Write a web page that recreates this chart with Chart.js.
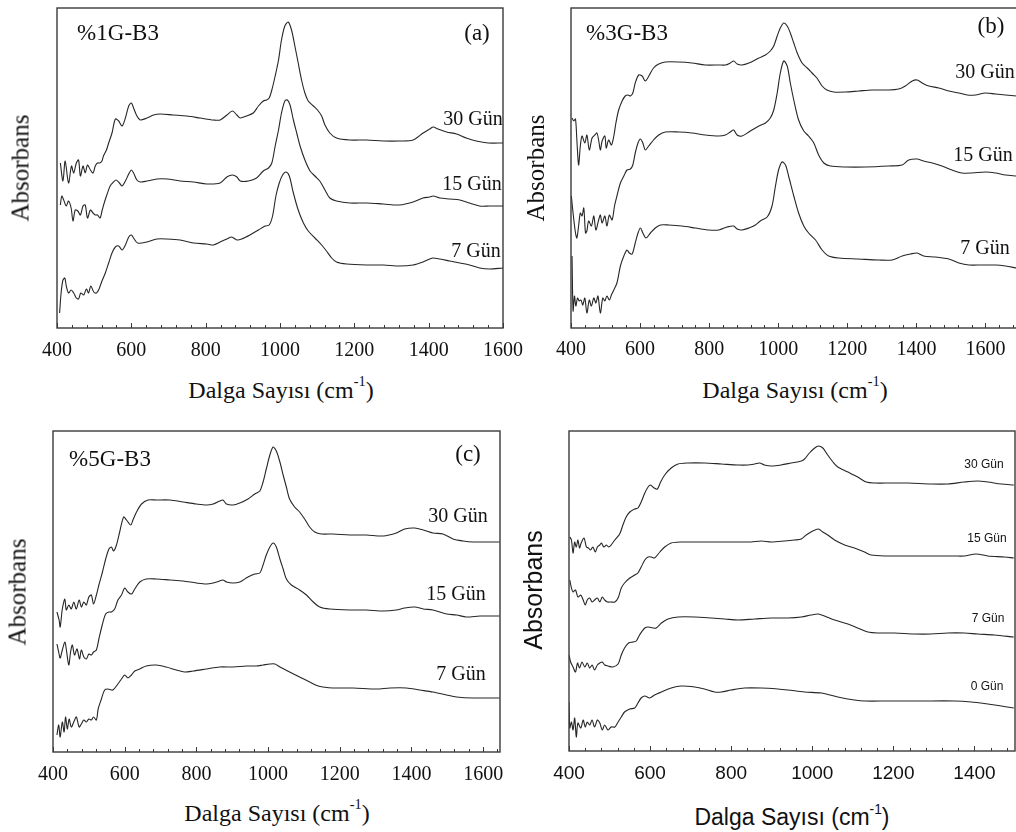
<!DOCTYPE html>
<html>
<head>
<meta charset="utf-8">
<script src="https://cdn.jsdelivr.net/npm/chart.js@4.4.1/dist/chart.umd.min.js"></script>
<style>
  body { margin: 0; width: 1016px; height: 832px; overflow: hidden; background: #fff; position: relative; }
  canvas { position: absolute; }
  .t { position: absolute; transform: translate(-50%, -50%); white-space: nowrap; color: #111; line-height: 1; }
  .v { transform: translate(-50%, -50%) rotate(-90deg); }
  .serif { font-family: "Liberation Serif", "Times New Roman", serif; }
  .sans { font-family: "Liberation Sans", Arial, sans-serif; }
  sup { font-size: 60%; position: relative; top: -0.2em; vertical-align: super; line-height: 0; }
</style>
</head>
<body>
<canvas id="chartA" width="540" height="372" style="left:0;top:0"></canvas>
<canvas id="chartB" width="500" height="372" style="left:540px;top:0"></canvas>
<canvas id="chartC" width="540" height="380" style="left:0;top:410px"></canvas>
<canvas id="chartD" width="476" height="380" style="left:540px;top:410px"></canvas>

<!-- (a) -->
<div class="t serif" style="left:118px;top:32px;font-size:23px">%1G-B3</div>
<div class="t serif" style="left:477px;top:32px;font-size:23px">(a)</div>
<div class="t serif" style="left:473px;top:118px;font-size:20px">30 Gün</div>
<div class="t serif" style="left:472px;top:183px;font-size:20px">15 Gün</div>
<div class="t serif" style="left:476px;top:250px;font-size:20px">7 Gün</div>
<div class="t serif" style="left:281px;top:390px;font-size:24px">Dalga Sayısı (cm<sup>-1</sup>)</div>
<div class="t serif v" style="left:20px;top:168px;font-size:25px">Absorbans</div>

<!-- (b) -->
<div class="t serif" style="left:627px;top:32px;font-size:23px">%3G-B3</div>
<div class="t serif" style="left:991px;top:25px;font-size:23px">(b)</div>
<div class="t serif" style="left:985px;top:71px;font-size:20px">30 Gün</div>
<div class="t serif" style="left:983px;top:154px;font-size:20px">15 Gün</div>
<div class="t serif" style="left:985px;top:247px;font-size:20px">7 Gün</div>
<div class="t serif" style="left:795px;top:390px;font-size:24px">Dalga Sayısı (cm<sup>-1</sup>)</div>
<div class="t serif v" style="left:535px;top:168px;font-size:25px">Absorbans</div>

<!-- (c) -->
<div class="t serif" style="left:110px;top:458px;font-size:23px">%5G-B3</div>
<div class="t serif" style="left:468px;top:453px;font-size:23px">(c)</div>
<div class="t serif" style="left:458px;top:515px;font-size:20px">30 Gün</div>
<div class="t serif" style="left:456px;top:593px;font-size:20px">15 Gün</div>
<div class="t serif" style="left:461px;top:673px;font-size:20px">7 Gün</div>
<div class="t serif" style="left:277px;top:813px;font-size:24px">Dalga Sayısı (cm<sup>-1</sup>)</div>
<div class="t serif v" style="left:17px;top:592px;font-size:25px">Absorbans</div>

<!-- (d) -->
<div class="t sans" style="left:984px;top:464px;font-size:12px">30 Gün</div>
<div class="t sans" style="left:987px;top:538px;font-size:12px">15 Gün</div>
<div class="t sans" style="left:988px;top:618px;font-size:12px">7 Gün</div>
<div class="t sans" style="left:987px;top:686px;font-size:12px">0 Gün</div>
<div class="t sans" style="left:792px;top:817px;font-size:23px">Dalga Sayısı (cm<sup>-1</sup>)</div>
<div class="t sans v" style="left:533px;top:590px;font-size:25px">Absorbans</div>

<script>
// x = wavenumber (cm-1), y = absorbance (arbitrary units, offset curves)
const ticksA = [400, 600, 800, 1000, 1200, 1400, 1600];
const ticksB = [400, 600, 800, 1000, 1200, 1400, 1600];
const ticksC = [400, 600, 800, 1000, 1200, 1400, 1600];
const ticksD = [400, 600, 800, 1000, 1200, 1400];

// (a) %1G-B3
const a30 = [[409,165],[416,147],[422,167],[431,145],[439,162],[445,155],[452,165],[458,168],[463,152],[470,162],[476,155],[482,163],[490,158],[497,155],[503,162],[509,165],[515,165],[521,167],[525,172],[533,178],[539,185],[548,195],[557,209],[566,207],[575,202],[584,210],[593,222],[600,225],[606,220],[615,212],[624,208],[642,210],[660,213],[678,214],[713,213],[749,212],[785,210],[821,208],[839,208],[857,213],[872,217],[884,213],[893,210],[910,212],[928,215],[942,222],[955,227],[964,228],[971,230],[978,238],[987,252],[996,268],[1004,288],[1013,302],[1022,306],[1031,298],[1040,282],[1049,265],[1058,248],[1067,235],[1076,227],[1090,222],[1103,217],[1112,212],[1121,203],[1134,195],[1152,190],[1188,188],[1233,188],[1278,187],[1322,187],[1358,188],[1385,195],[1403,199],[1412,201],[1425,199],[1448,196],[1475,194],[1501,190],[1528,187],[1560,185],[1600,185]];
const a15 = [[409,123],[413,132],[418,128],[425,122],[431,127],[438,120],[443,107],[449,118],[456,117],[463,113],[470,122],[476,123],[482,110],[490,118],[497,115],[503,113],[509,113],[516,110],[521,117],[527,125],[534,133],[543,142],[552,146],[559,148],[568,145],[575,142],[584,147],[593,154],[600,158],[606,155],[615,148],[624,146],[642,147],[669,149],[696,149],[731,147],[767,146],[803,144],[839,145],[857,151],[872,153],[884,151],[893,147],[915,147],[937,150],[955,157],[969,160],[978,165],[987,182],[996,198],[1004,215],[1013,227],[1020,228],[1027,223],[1036,208],[1045,195],[1054,182],[1067,168],[1081,157],[1094,152],[1107,147],[1121,138],[1134,130],[1152,127],[1188,125],[1233,125],[1278,124],[1322,123],[1358,126],[1385,130],[1403,131],[1412,132],[1430,130],[1457,129],[1484,128],[1510,125],[1537,122],[1564,122],[1600,122]];
const a7 = [[407,15],[411,35],[416,48],[421,50],[425,42],[431,35],[438,38],[445,35],[452,30],[458,29],[464,35],[472,33],[479,39],[485,35],[491,42],[499,36],[506,35],[512,38],[521,47],[530,55],[539,65],[548,75],[557,81],[566,82],[575,78],[584,83],[593,91],[600,93],[606,90],[617,85],[642,86],[669,89],[696,89],[731,88],[767,85],[803,84],[821,83],[839,86],[857,89],[870,91],[884,88],[897,89],[919,93],[942,98],[960,102],[971,103],[980,112],[989,132],[998,145],[1007,153],[1016,156],[1025,152],[1036,135],[1049,118],[1063,105],[1076,97],[1094,90],[1112,83],[1125,77],[1139,70],[1152,66],[1179,64],[1233,63],[1278,63],[1322,62],[1358,63],[1385,66],[1403,69],[1412,70],[1430,69],[1457,67],[1484,65],[1510,63],[1537,60],[1564,59],[1600,60]];

// (b) %3G-B3
const b30 = [[403,210],[408,207],[413,209],[417,188],[422,163],[427,182],[432,192],[440,185],[446,193],[453,178],[461,190],[469,193],[475,195],[480,188],[485,178],[490,187],[498,192],[502,180],[509,188],[517,183],[524,192],[530,205],[538,218],[548,227],[557,232],[565,233],[572,232],[579,235],[586,245],[596,253],[606,252],[615,247],[627,253],[639,260],[654,264],[673,266],[712,266],[750,265],[789,263],[828,263],[847,263],[861,265],[871,267],[881,264],[895,263],[915,265],[944,270],[963,273],[977,277],[987,282],[997,292],[1006,300],[1016,305],[1026,302],[1035,295],[1045,285],[1055,275],[1069,265],[1084,260],[1098,255],[1112,250],[1127,242],[1141,238],[1161,236],[1195,236],[1233,237],[1272,238],[1320,238],[1349,239],[1368,242],[1388,247],[1402,248],[1417,245],[1436,242],[1465,240],[1494,237],[1523,235],[1547,233],[1571,233],[1600,235],[1629,234],[1658,233],[1690,232]];
const b15 = [[401,132],[406,115],[413,95],[417,90],[422,102],[427,115],[432,112],[437,120],[442,95],[446,97],[451,107],[459,102],[466,112],[472,98],[480,108],[485,113],[490,105],[498,112],[504,102],[511,113],[519,108],[526,122],[533,132],[543,145],[553,152],[562,158],[572,159],[579,163],[586,175],[594,185],[601,189],[608,185],[615,178],[625,182],[639,188],[654,193],[673,196],[712,196],[750,195],[789,193],[828,192],[847,193],[861,196],[871,198],[881,193],[895,192],[915,196],[944,202],[963,205],[977,210],[987,218],[997,235],[1006,255],[1016,267],[1026,262],[1035,245],[1045,228],[1059,208],[1074,197],[1088,192],[1103,185],[1117,173],[1132,165],[1151,162],[1195,161],[1252,161],[1320,162],[1359,163],[1378,168],[1402,169],[1421,167],[1446,165],[1474,162],[1503,158],[1532,155],[1561,155],[1600,156],[1629,155],[1658,153],[1690,152]];
const b7 = [[403,72],[406,17],[410,32],[414,22],[419,30],[424,27],[429,28],[434,23],[440,30],[446,15],[453,28],[459,22],[466,30],[472,25],[478,32],[485,15],[492,30],[498,27],[504,32],[511,28],[517,33],[524,38],[533,45],[543,62],[553,72],[562,78],[569,75],[577,74],[586,85],[594,95],[601,100],[608,95],[617,90],[630,95],[644,100],[659,103],[683,103],[721,102],[760,100],[799,98],[828,98],[852,101],[871,102],[881,99],[895,98],[915,100],[934,103],[948,107],[968,111],[982,122],[992,142],[1001,158],[1011,166],[1021,163],[1030,152],[1045,132],[1059,115],[1074,102],[1088,95],[1108,88],[1127,78],[1146,72],[1175,70],[1233,69],[1291,68],[1330,68],[1359,72],[1383,74],[1402,75],[1421,72],[1455,71],[1494,69],[1523,65],[1552,63],[1590,63],[1629,63],[1658,62],[1690,60]];

// (c) %5G-B3
const c30 = [[411,140],[417,132],[420,125],[426,143],[433,153],[437,142],[444,147],[451,143],[458,150],[465,143],[473,152],[479,145],[486,150],[493,147],[500,155],[507,157],[513,148],[521,157],[528,167],[538,180],[547,193],[556,203],[563,205],[569,201],[577,207],[586,220],[597,235],[605,232],[617,227],[623,232],[633,240],[647,248],[665,252],[688,252],[726,252],[763,250],[800,248],[828,247],[847,248],[865,251],[874,252],[884,248],[902,247],[921,249],[944,253],[963,258],[977,261],[986,270],[995,283],[1005,297],[1014,305],[1023,301],[1033,290],[1042,277],[1051,265],[1060,253],[1074,245],[1088,240],[1102,233],[1116,225],[1130,220],[1149,218],[1181,218],[1228,217],[1274,217],[1321,216],[1358,219],[1381,223],[1409,224],[1433,222],[1460,219],[1488,218],[1516,213],[1544,211],[1572,210],[1609,210],[1646,210]];
const c15 = [[411,108],[417,98],[420,94],[426,102],[433,110],[437,103],[444,87],[449,100],[454,107],[460,97],[467,103],[474,93],[479,102],[486,95],[493,93],[500,98],[507,97],[513,100],[521,102],[528,113],[538,128],[547,138],[556,140],[563,140],[572,143],[581,152],[591,157],[600,164],[609,160],[619,158],[628,163],[642,170],[660,173],[688,173],[726,172],[763,171],[800,169],[828,168],[847,169],[865,171],[874,172],[884,170],[902,169],[921,170],[944,175],[963,178],[977,179],[986,187],[995,197],[1005,205],[1014,209],[1023,205],[1033,193],[1042,183],[1051,173],[1065,167],[1088,162],[1107,157],[1126,150],[1144,145],[1172,143],[1228,142],[1274,142],[1321,141],[1358,142],[1381,144],[1409,145],[1433,143],[1460,142],[1498,138],[1526,137],[1553,135],[1591,136],[1646,136]];
const c7 = [[411,17],[416,27],[420,15],[426,30],[431,20],[435,35],[440,23],[445,33],[451,25],[458,30],[465,35],[473,25],[479,28],[486,32],[493,30],[500,33],[507,32],[513,35],[521,32],[526,43],[535,53],[544,62],[553,63],[567,62],[581,68],[591,73],[600,77],[609,74],[619,77],[628,81],[642,83],[660,86],[688,87],[716,85],[744,82],[767,80],[791,81],[828,83],[865,85],[902,85],[940,86],[967,86],[986,87],[1005,88],[1019,88],[1033,85],[1060,80],[1088,75],[1116,70],[1140,66],[1153,65],[1181,64],[1237,64],[1302,63],[1340,64],[1386,64],[1423,62],[1460,60],[1498,57],[1526,55],[1572,54],[1646,54]];

// (d)
const d30 = [[402,214],[406,211],[410,198],[414,209],[418,204],[422,211],[426,203],[430,208],[437,213],[443,204],[448,203],[453,201],[459,204],[465,199],[470,204],[476,206],[480,208],[486,204],[492,206],[498,204],[504,206],[513,211],[525,217],[533,226],[541,234],[550,239],[562,242],[570,243],[578,249],[587,258],[595,264],[601,266],[610,263],[618,262],[626,269],[636,276],[652,283],[669,287],[693,288],[734,288],[776,287],[817,286],[841,286],[858,287],[870,288],[882,286],[899,285],[923,286],[948,288],[973,290],[981,292],[993,298],[1006,303],[1015,305],[1026,303],[1038,296],[1051,289],[1063,284],[1088,279],[1112,274],[1133,269],[1153,268],[1195,268],[1236,268],[1293,267],[1334,267],[1375,269],[1408,270],[1433,269],[1466,267],[1497,266]];
const d15 = [[402,171],[406,163],[410,159],[416,161],[422,154],[429,156],[435,151],[440,146],[445,151],[451,153],[457,149],[463,151],[470,153],[476,149],[482,154],[488,151],[495,149],[503,149],[513,149],[521,153],[529,163],[537,168],[550,173],[562,176],[570,178],[578,184],[587,191],[595,194],[603,194],[611,193],[624,199],[636,204],[652,208],[677,209],[718,209],[767,209],[817,209],[849,209],[874,210],[899,209],[932,210],[956,211],[973,212],[985,216],[1001,220],[1015,222],[1026,219],[1038,216],[1055,211],[1080,206],[1104,203],[1129,199],[1145,196],[1186,195],[1227,195],[1269,195],[1310,195],[1351,195],[1375,195],[1404,197],[1433,195],[1474,194],[1497,193]];
const d7 = [[400,96],[404,89],[410,84],[416,79],[421,88],[426,83],[432,89],[439,84],[445,88],[451,83],[457,86],[463,81],[470,86],[476,88],[482,89],[488,86],[496,85],[508,84],[521,87],[529,96],[537,103],[547,108],[558,109],[566,110],[574,116],[587,123],[596,124],[607,123],[615,123],[628,128],[644,132],[669,134],[710,134],[751,133],[784,132],[817,131],[858,132],[899,133],[940,133],[973,134],[997,136],[1015,137],[1030,135],[1055,131],[1088,127],[1112,123],[1137,119],[1162,118],[1203,118],[1252,117],[1293,117],[1334,118],[1375,118],[1408,117],[1449,116],[1497,114]];
const d0 = [[400,49],[402,23],[406,29],[410,21],[414,33],[418,14],[422,28],[429,23],[435,31],[440,24],[445,29],[451,26],[457,31],[463,24],[470,31],[476,28],[482,21],[488,26],[496,21],[504,24],[513,24],[521,29],[529,34],[537,39],[550,42],[562,43],[570,48],[578,53],[587,55],[599,53],[611,56],[628,59],[652,63],[677,65],[710,64],[734,62],[759,59],[776,59],[800,61],[833,63],[874,63],[915,62],[940,61],[981,59],[1022,58],[1063,54],[1104,51],[1129,50],[1186,50],[1269,50],[1351,50],[1392,49],[1433,47],[1497,43]];

// box + inward bottom ticks (minor every 40, major every 200)
const framePlugin = {
  id: 'frame',
  afterDraw(chart) {
    const { ctx, chartArea: a, scales: { x } } = chart;
    ctx.save();
    ctx.strokeStyle = '#3a3a3a';
    ctx.lineWidth = 1.4;
    ctx.strokeRect(a.left, a.top, a.right - a.left, a.bottom - a.top);
    ctx.lineWidth = 1;
    for (let v = x.min; v <= x.max; v += 40) {
      const px = Math.round(x.getPixelForValue(v)) + 0.5;
      const len = v % 200 === 0 ? 5 : 3;
      ctx.beginPath();
      ctx.moveTo(px, a.bottom);
      ctx.lineTo(px, a.bottom - len);
      ctx.stroke();
    }
    ctx.restore();
  }
};

function makeChart(id, series, opt) {
  return new Chart(document.getElementById(id), {
    type: 'line',
    data: {
      datasets: series.map(s => ({
        data: s.map(p => ({ x: p[0], y: p[1] })),
        borderColor: '#262626',
        borderWidth: 1.1,
        pointRadius: 0,
        tension: 0.3,
        fill: false
      }))
    },
    options: {
      responsive: false,
      animation: false,
      devicePixelRatio: 1,
      layout: { padding: opt.pad },
      plugins: { legend: { display: false }, tooltip: { enabled: false } },
      scales: {
        x: {
          type: 'linear', min: 400, max: opt.xMax,
          grid: { display: false, drawTicks: false, tickLength: 0 },
          border: { display: false },
          afterBuildTicks: s => { s.ticks = opt.ticks.map(v => ({ value: v })); },
          afterFit: s => { s.height = opt.axisH; },
          ticks: { font: opt.font, color: '#111', padding: opt.tickPad, maxRotation: 0, autoSkip: false, callback: v => String(v) }
        },
        y: { display: false, min: 0, max: opt.yMax }
      }
    },
    plugins: [framePlugin]
  });
}

const serifTicks = { family: 'Liberation Serif', size: 20 };
const sansTicks = { family: 'Liberation Sans', size: 19 };

makeChart('chartA', [a30, a15, a7], { xMax: 1600, yMax: 320, ticks: ticksA, font: serifTicks, pad: { left: 57, top: 8, right: 37, bottom: 0 }, axisH: 44, tickPad: 11 });
makeChart('chartB', [b30, b15, b7], { xMax: 1700, yMax: 320, ticks: ticksB, font: serifTicks, pad: { left: 31, top: 8, right: 20, bottom: 0 }, axisH: 44, tickPad: 10 });
makeChart('chartC', [c30, c15, c7], { xMax: 1647, yMax: 321, ticks: ticksC, font: serifTicks, pad: { left: 53, top: 21, right: 40, bottom: 0 }, axisH: 38, tickPad: 11 });
makeChart('chartD', [d30, d15, d7, d0], { xMax: 1500, yMax: 320, ticks: ticksD, font: sansTicks, pad: { left: 29, top: 21, right: 1, bottom: 0 }, axisH: 39, tickPad: 11 });
</script>
</body>
</html>
